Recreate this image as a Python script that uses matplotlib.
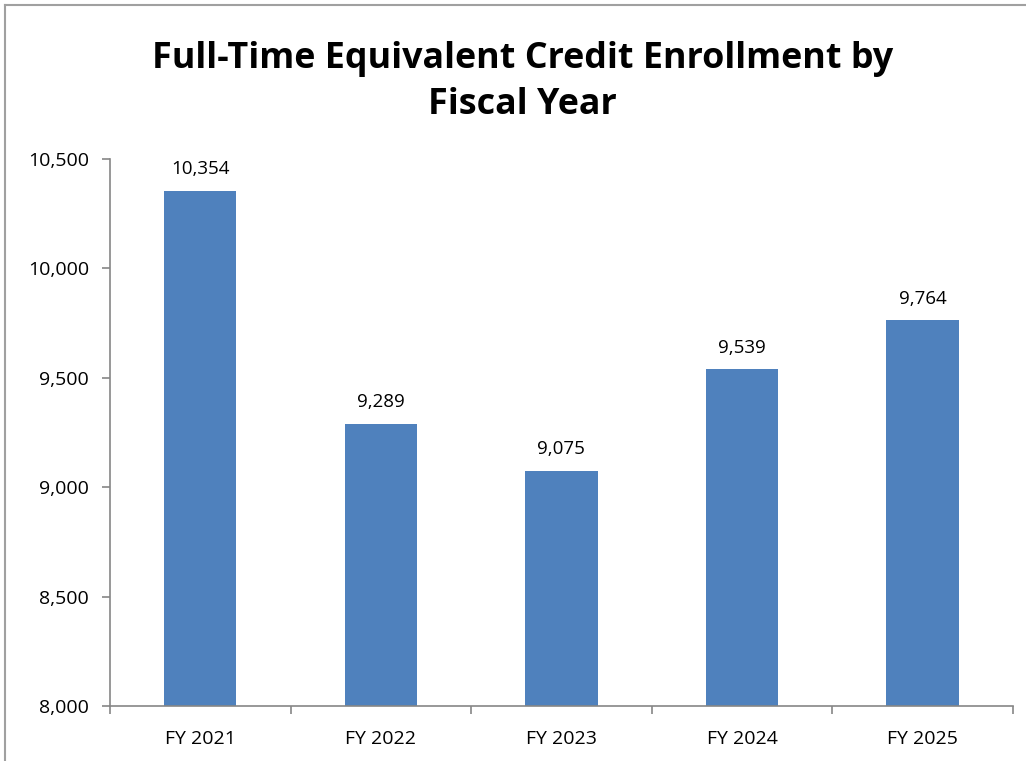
import matplotlib.pyplot as plt
from matplotlib.ticker import FuncFormatter, FixedLocator
from matplotlib.lines import Line2D

# data
years = ['FY 2021', 'FY 2022', 'FY 2023', 'FY 2024', 'FY 2025']
fte = [10354, 9289, 9075, 9539, 9764]
yticks = [8000, 8500, 9000, 9500, 10000, 10500]

plt.rcParams['font.family'] = ['Open Sans', 'DejaVu Sans']

fig = plt.figure(figsize=(10.26, 7.61), dpi=100)
ax = fig.add_axes([0.1072, 0.0723, 0.880, 0.7188])

x = list(range(len(years)))
ax.bar(x, fte, width=0.4, color='#4F81BD', edgecolor='none', zorder=2)
for xi, v in zip(x, fte):
    ax.annotate(f'{v:,}', (xi, v), xytext=(0, 9), textcoords='offset points',
                ha='center', va='bottom', fontsize=13.5, color='black')

ax.set_xlim(-0.5, len(years) - 0.5)
ax.set_ylim(8000, 10500)
ax.set_yticks(yticks)
ax.yaxis.set_major_formatter(FuncFormatter(lambda v, p: f'{int(v):,}'))
ax.set_xticks(x)
ax.set_xticklabels(years)
ax.xaxis.set_minor_locator(FixedLocator([i - 0.5 for i in range(len(years) + 1)]))
ax.tick_params(axis='x', which='major', length=0, pad=17, labelsize=14)
ax.tick_params(axis='x', which='minor', length=6, color='#868686', width=1.2)
ax.tick_params(axis='y', length=6, color='#868686', width=1.2, labelsize=14, pad=9)

for s in ['top', 'right']:
    ax.spines[s].set_visible(False)
for s in ['left', 'bottom']:
    ax.spines[s].set_color('#868686')
    ax.spines[s].set_linewidth(1.2)

fig.text(0.509, 0.892, 'Full-Time Equivalent Credit Enrollment by\nFiscal Year',
         ha='center', va='center', fontsize=25.8, fontweight='bold', linespacing=1.38)

# frame of the chart area (only top and left edges show in the crop)
fig.add_artist(Line2D([0.005, 1.0], [0.993, 0.993], transform=fig.transFigure,
                      color='#A0A0A0', lw=1.5))
fig.add_artist(Line2D([0.005, 0.005], [0.0, 0.993], transform=fig.transFigure,
                      color='#A0A0A0', lw=1.5))

fig.savefig('out.png', dpi=100)
